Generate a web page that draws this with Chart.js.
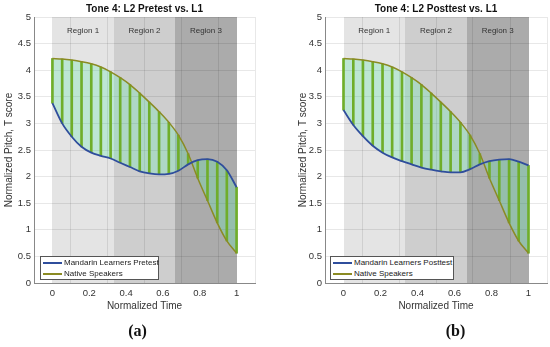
<!DOCTYPE html>
<html>
<head>
<meta charset="utf-8">
<script src="https://cdn.jsdelivr.net/npm/chart.js@4"></script>
<style>
  body { margin: 0; background: #fff; }
  #wrap { position: relative; width: 550px; height: 347px; font-family: "Liberation Sans", Arial, sans-serif; }
  canvas { position: absolute; top: 0; }
  .legend { position: absolute; top: 256px; height: 22px; border: 1px solid #555; background: #fff; font-size: 8px; color: #222; }
  .legend div { height: 11px; line-height: 11px; white-space: nowrap; }
  .legend span.ln { display: inline-block; width: 19px; height: 2px; margin: 0 2px 0 2px; vertical-align: middle; }
  .cap { position: absolute; top: 321px; width: 75px; text-align: center; font: bold 16px "Liberation Serif", "Times New Roman", serif; line-height: 20px; color: #111; }
</style>
</head>
<body>
<div id="wrap">
  <canvas id="chartA" width="275" height="347" style="left:0"></canvas>
  <canvas id="chartB" width="275" height="347" style="left:275px"></canvas>
  <div class="legend" id="legA" style="left:40px;width:117px"></div>
  <div class="legend" id="legB" style="left:330px;width:122px"></div>
  <div class="cap" style="left:100px">(a)</div>
  <div class="cap" style="left:418px">(b)</div>
</div>
<script>
// normalized time samples (20 points)
const xs = [0, 0.053, 0.105, 0.158, 0.211, 0.263, 0.316, 0.368, 0.421, 0.474,
            0.526, 0.579, 0.632, 0.684, 0.737, 0.789, 0.842, 0.895, 0.947, 1];
const nativeL1 = [4.22, 4.21, 4.19, 4.16, 4.12, 4.06, 3.97, 3.86, 3.73, 3.57,
                  3.40, 3.22, 3.02, 2.78, 2.43, 1.97, 1.55, 1.13, 0.79, 0.56];
const pretest = [3.38, 3.00, 2.75, 2.56, 2.45, 2.39, 2.34, 2.26, 2.18, 2.10,
                 2.06, 2.04, 2.05, 2.11, 2.23, 2.31, 2.33, 2.28, 2.12, 1.80];
const posttest = [3.25, 2.97, 2.76, 2.58, 2.45, 2.36, 2.29, 2.23, 2.17, 2.13,
                  2.10, 2.08, 2.08, 2.14, 2.23, 2.29, 2.32, 2.33, 2.28, 2.21];
const xTicks = [0, 0.2, 0.4, 0.6, 0.8, 1];
const regionNames = ["Region 1", "Region 2", "Region 3"];
const regionEdges = [0, 0.333, 0.667, 1];
const regionLabelY = 4.75;

const BLUE = "#2f4d9c";
const OLIVE = "#8b8b23";
const HATCH = "#6fae2a";
const FILL = "rgba(100,235,175,0.30)";
const GRID = "rgba(0,0,0,0.09)";
const TICK = "#333";
const regionFill = ["#e4e4e4", "#cecece", "#ababab"];

Chart.defaults.font.family = '"Liberation Sans", Arial, sans-serif';

// shaded regions under the grid, labels on top
const regionPlugin = {
  id: "regions",
  beforeDraw(chart) {
    const { ctx, chartArea: a, scales: { x } } = chart;
    ctx.save();
    regionNames.forEach((n, i) => {
      const x0 = Math.round(x.getPixelForValue(regionEdges[i]));
      const x1 = Math.round(x.getPixelForValue(regionEdges[i + 1]));
      ctx.fillStyle = regionFill[i];
      ctx.fillRect(x0, a.top, x1 - x0, a.bottom - a.top);
    });
    ctx.restore();
  },
  afterDatasetsDraw(chart) {
    const { ctx, scales: { x, y } } = chart;
    ctx.save();
    ctx.font = '8px "Liberation Sans", Arial, sans-serif';
    ctx.fillStyle = "#333";
    ctx.textAlign = "center";
    ctx.textBaseline = "middle";
    regionNames.forEach((n, i) => {
      const cx = x.getPixelForValue((regionEdges[i] + regionEdges[i + 1]) / 2);
      ctx.fillText(n, cx, y.getPixelForValue(regionLabelY));
    });
    ctx.restore();
  },
};

const plainTick = (v) => String(Math.round(v * 10) / 10);

function makeChart(id, title, learner, padLeft, yWidth, padRight) {
  return new Chart(document.getElementById(id), {
    type: "line",
    data: {
      datasets: [
        {
          data: xs.map((x, i) => ({ x, y: learner[i] })),
          borderColor: BLUE,
          borderWidth: 1.8,
          pointRadius: 0,
          cubicInterpolationMode: "monotone",
          fill: false,
          order: 0,
        },
        {
          data: xs.map((x, i) => ({ x, y: nativeL1[i] })),
          borderColor: OLIVE,
          borderWidth: 1.5,
          pointRadius: 0,
          cubicInterpolationMode: "monotone",
          fill: { target: 0, above: FILL, below: FILL },
          order: 1,
        },
        {
          type: "bar",
          data: xs.map((x, i) => ({ x, y: [learner[i], nativeL1[i]] })),
          backgroundColor: HATCH,
          barThickness: 2,
          grouped: false,
          order: 2,
        },
      ],
    },
    options: {
      responsive: false,
      animation: false,
      devicePixelRatio: 1,
      layout: { padding: { left: padLeft, right: padRight, top: 0, bottom: 35 } },
      plugins: {
        legend: { display: false },
        tooltip: { enabled: false },
        filler: { drawTime: "beforeDatasetsDraw" },
        title: {
          display: true,
          text: title,
          fullSize: false,
          color: "#111",
          font: { size: 10, weight: "bold" },
          padding: { top: 3, bottom: 2 },
        },
      },
      scales: {
        x: {
          type: "linear",
          min: -0.1,
          max: 1.1,
          offset: false,
          afterBuildTicks: (s) => { s.ticks = xTicks.map((v) => ({ value: v })); },
          afterFit: (s) => { s.height = 29; },
          grid: { color: GRID, drawTicks: false },
          border: { color: "#888" },
          ticks: { color: TICK, font: { size: 9.5 }, padding: 5, maxRotation: 0, callback: plainTick },
          title: { display: true, text: "Normalized Time", color: TICK, font: { size: 10 }, padding: 0 },
        },
        y: {
          min: 0,
          max: 5,
          afterFit: (s) => { s.width = yWidth; },
          grid: { color: GRID, drawTicks: false },
          border: { color: "#888" },
          ticks: { stepSize: 0.5, color: TICK, font: { size: 9.5 }, padding: 3, callback: plainTick },
          title: {
            display: true,
            text: "Normalized Pitch, T score",
            color: TICK,
            font: { size: 10 },
            padding: { top: 3, bottom: 0 },
          },
        },
      },
    },
    plugins: [regionPlugin],
  });
}

makeChart("chartA", "Tone 4: L2 Pretest vs. L1", pretest, 0, 34, 20);
makeChart("chartB", "Tone 4: L2 Posttest vs. L1", posttest, 19, 31, 3);

// legends
function fillLegend(id, learnerLabel) {
  const el = document.getElementById(id);
  [[learnerLabel, BLUE], ["Native Speakers", OLIVE]].forEach(([t, c]) => {
    const row = document.createElement("div");
    row.innerHTML = `<span class="ln" style="background:${c}"></span>${t}`;
    el.appendChild(row);
  });
}
fillLegend("legA", "Mandarin Learners Pretest");
fillLegend("legB", "Mandarin Learners Posttest");
</script>
</body>
</html>
